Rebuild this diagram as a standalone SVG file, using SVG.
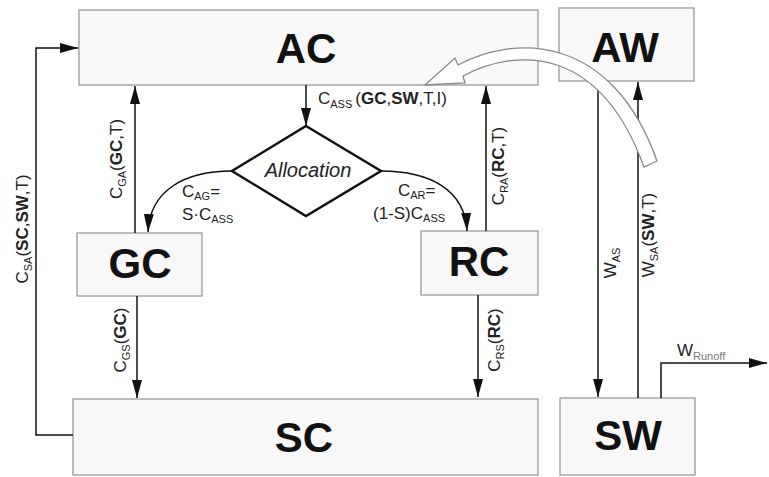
<svg xmlns="http://www.w3.org/2000/svg" width="769" height="477" viewBox="0 0 769 477">
<style>
.box{fill:#f8f8f8;stroke:#9a9a9a;stroke-width:1.3}
.big{font-family:"Liberation Sans",Arial,sans-serif;font-weight:bold;font-size:42px;fill:#111;text-anchor:middle}
.lb{font-family:"Liberation Sans",Arial,sans-serif;font-size:17px;fill:#222}
.alloc{font-family:"Liberation Sans",Arial,sans-serif;font-size:20px;font-style:italic;fill:#222;text-anchor:middle}
.sub{font-size:11px}
.b{font-weight:bold}
.ln{fill:none;stroke:#111;stroke-width:1.5}
</style>
<defs>
<marker id="ah" viewBox="0 0 18 10" refX="18" refY="5" markerWidth="18" markerHeight="10" markerUnits="userSpaceOnUse" orient="auto">
<path d="M0,0 L18,5 L0,10 z" fill="#111"/>
</marker>
</defs>
<rect width="769" height="477" fill="#fff"/>

<g id="AC"><rect class="box" x="79" y="10" width="459" height="75"/><text class="big" x="306" y="63">AC</text></g>
<g id="AW"><rect class="box" x="559" y="8" width="135" height="73"/><text class="big" x="625" y="62">AW</text></g>
<g id="GC"><rect class="box" x="77" y="233" width="125" height="63"/><text class="big" x="140" y="278">GC</text></g>
<g id="RC"><rect class="box" x="421" y="231" width="117" height="64"/><text class="big" x="479" y="276">RC</text></g>
<g id="SC"><rect class="box" x="73" y="399" width="465" height="76"/><text class="big" x="304" y="452">SC</text></g>
<g id="SW"><rect class="box" x="560" y="398" width="135" height="77"/><text class="big" x="628" y="450">SW</text></g>
<g id="Allocation"><polygon points="306,126 381,171 306,216 232,171" fill="#fff" stroke="#111" stroke-width="2.5"/><text class="alloc" x="308" y="177">Allocation</text></g>

<g id="connectors">
<path class="ln" d="M306,85 L306,126" marker-end="url(#ah)"/>
<path class="ln" d="M232,171 C185,171 150,190 148,232" marker-end="url(#ah)"/>
<path class="ln" d="M381,171 C430,171 465,190 467,231" marker-end="url(#ah)"/>
<path class="ln" d="M135,233 L135,86" marker-end="url(#ah)"/>
<path class="ln" d="M486,231 L486,86" marker-end="url(#ah)"/>
<path class="ln" d="M137,296 L137,398" marker-end="url(#ah)"/>
<path class="ln" d="M478,295 L478,397" marker-end="url(#ah)"/>
<path class="ln" d="M73,435 L36,435 L36,48 L78,48" marker-end="url(#ah)"/>
<path class="ln" d="M598,81 L598,397" marker-end="url(#ah)"/>
<path class="ln" d="M638,398 L638,82" marker-end="url(#ah)"/>
<path class="ln" d="M661,398 L661,363 L767,363" marker-end="url(#ah)"/>
<path d="M425,85 L455,58 L458,65 C515,34 612,34 657,161 L644,167 C600,46 518,47 463,76 L465,83 Z" fill="#fff" stroke="#888" stroke-width="1.3" stroke-linejoin="miter"/>
</g>

<g id="labels">
<text class="lb" x="318" y="104">C<tspan class="sub" dy="4">ASS</tspan><tspan dy="-4" dx="3">(</tspan><tspan class="b">GC</tspan>,<tspan class="b">SW</tspan>,T,I)</text>
<text class="lb" x="182" y="197">C<tspan class="sub" dy="3">AG</tspan><tspan dy="-3">=</tspan></text>
<text class="lb" x="182" y="220">S·C<tspan class="sub" dy="3">ASS</tspan></text>
<text class="lb" x="398" y="196">C<tspan class="sub" dy="3">AR</tspan><tspan dy="-3">=</tspan></text>
<text class="lb" x="373" y="219">(1-S)C<tspan class="sub" dy="3">ASS</tspan></text>
<text class="lb" text-anchor="middle" transform="translate(122,159) rotate(-90)">C<tspan class="sub" dy="4">GA</tspan><tspan dy="-4">(</tspan><tspan class="b">GC</tspan>,T)</text>
<text class="lb" text-anchor="middle" transform="translate(28,229) rotate(-90)">C<tspan class="sub" dy="4">SA</tspan><tspan dy="-4">(</tspan><tspan class="b">SC</tspan>,<tspan class="b">SW</tspan>,T)</text>
<text class="lb" text-anchor="middle" transform="translate(126,340) rotate(-90)">C<tspan class="sub" dy="4">GS</tspan><tspan dy="-4">(</tspan><tspan class="b">GC</tspan>)</text>
<text class="lb" text-anchor="middle" transform="translate(504,166) rotate(-90)">C<tspan class="sub" dy="4">RA</tspan><tspan dy="-4">(</tspan><tspan class="b">RC</tspan>,T)</text>
<text class="lb" text-anchor="middle" transform="translate(500,340) rotate(-90)">C<tspan class="sub" dy="4">RS</tspan><tspan dy="-4">(</tspan><tspan class="b">RC</tspan>)</text>
<text class="lb" text-anchor="middle" transform="translate(616,263) rotate(-90)">W<tspan class="sub" dy="4">AS</tspan></text>
<text class="lb" text-anchor="middle" transform="translate(654,235) rotate(-90)">W<tspan class="sub" dy="4">SA</tspan><tspan dy="-4">(</tspan><tspan class="b">SW</tspan>,T)</text>
<text class="lb" x="677" y="356">W<tspan class="sub" dy="4" fill="#777">Runoff</tspan></text>
</g>
</svg>
